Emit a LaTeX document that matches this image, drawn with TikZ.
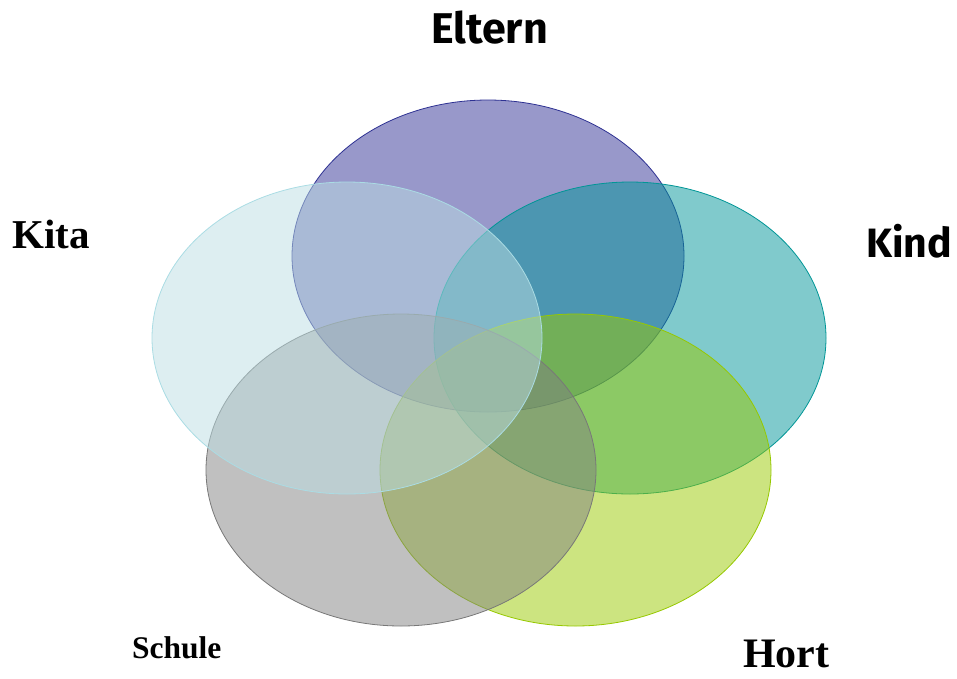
\documentclass[tikz,border=0pt]{standalone}
\usepackage{fontspec}
\setmainfont{Liberation Serif}
\newfontfamily\roundfont{Fira Sans}
\usetikzlibrary{positioning}
\definecolor{elternfill}{RGB}{49,49,149}
\definecolor{elterndraw}{RGB}{46,49,146}
\definecolor{kindfill}{RGB}{1,149,153}
\definecolor{kinddraw}{RGB}{0,150,150}
\definecolor{hortfill}{RGB}{153,201,1}
\definecolor{hortdraw}{RGB}{150,200,0}
\definecolor{schulefill}{RGB}{129,129,129}
\definecolor{schuledraw}{RGB}{120,120,120}
\definecolor{kitafill}{RGB}{187,221,227}
\definecolor{kitadraw}{RGB}{170,220,228}
\tikzstyle{set} = [line width=0.8pt, fill opacity=0.5]
\tikzstyle{label} = [anchor=base west, inner sep=0pt, text=black]
\tikzstyle{label round} = [label, font=\roundfont\bfseries\fontsize{43}{47}\selectfont]
\tikzstyle{label serif} = [label, font=\bfseries\fontsize{41}{45}\selectfont]

\begin{document}
\begin{tikzpicture}[x=1pt, y=-1pt]
	\useasboundingbox (0,0) rectangle (957,678);

	% sets
	\draw [set, draw=elterndraw, fill=elternfill] (488,256) ellipse [x radius=196, y radius=156];
	\draw [set, draw=kinddraw, fill=kindfill] (630,338) ellipse [x radius=196, y radius=156];
	\draw [set, draw=hortdraw, fill=hortfill] (575.5,470) ellipse [x radius=195.5, y radius=156];
	\draw [set, draw=schuledraw, fill=schulefill] (401,470) ellipse [x radius=195, y radius=156];
	\draw [set, draw=kitadraw, fill=kitafill] (347,338) ellipse [x radius=195, y radius=156];

	% labels
	\node [label round] at (431,43) (eltern) {Eltern};
	\node [label round, font=\roundfont\bfseries\fontsize{41}{45}\selectfont] at (866,257) (kind) {Kind};
	\node [label serif] at (12,248) (kita) {Kita};
	\node [label serif, font=\bfseries\fontsize{31.5}{35}\selectfont] at (132,658) (schule) {Schule};
	\node [label serif, font=\bfseries\fontsize{42}{46}\selectfont] at (743,667) (hort) {Hort};

\end{tikzpicture}
\end{document}
